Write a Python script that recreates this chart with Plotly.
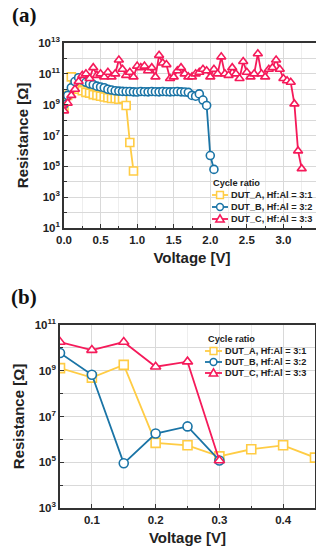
import plotly.graph_objects as go

# ---------------- Panel (a) data ----------------
volt_a_A = [round(0.05 * i, 2) for i in range(20)]
logR_a_A = [8.8, 9.6, 10.8, 10.3, 10.0, 9.9, 9.8, 9.75, 9.65, 9.6,
            9.55, 9.5, 9.45, 9.4, 9.4, 9.35, 9.4, 8.95, 6.55, 4.7]

volt_a_B = [round(0.05 * i, 2) for i in range(42)]
logR_a_B = [9.0, 9.6, 10.1, 10.5, 10.75, 10.6, 10.45, 10.35, 10.3, 10.2,
            10.15, 10.1, 10.0, 9.95, 9.9, 9.88, 9.86, 9.85, 9.85, 9.83,
            9.82, 9.85, 9.84, 9.83, 9.85, 9.84, 9.83, 9.85, 9.84, 9.83,
            9.84, 9.85, 9.83, 9.82, 9.8, 9.6, 9.55, 9.7, 9.3, 8.95,
            5.7, 4.8]

volt_a_C = [round(0.05 * i, 2) for i in range(66)]
logR_a_C = [8.6, 9.1, 9.6, 10.0, 10.5, 10.9, 11.0, 10.7, 11.4, 10.9,
            11.0, 10.8, 11.1, 10.8, 11.0, 11.9, 11.3, 10.9, 11.1, 10.8,
            11.5, 11.4, 11.5, 11.2, 11.4, 10.8, 12.2, 11.7, 11.6, 10.7,
            10.8, 11.2, 11.4, 11.0, 10.8, 10.8, 11.0, 11.1, 11.3, 11.2,
            10.8, 11.3, 11.0, 12.1, 11.0, 10.9, 11.4, 11.0, 10.7, 11.8,
            11.1, 10.8, 11.0, 12.3, 11.0, 10.8, 11.3, 11.4, 11.9, 11.3,
            10.7, 10.55, 10.45, 9.05, 6.0, 4.85]

# ---------------- Panel (b) data ----------------
volt_b_A = [0.05, 0.10, 0.15, 0.20, 0.25, 0.30, 0.35, 0.40, 0.45]
res_b_A = [1.3e9, 5.0e8, 1.8e9, 7.0e5, 5.5e5, 1.8e5, 3.7e5, 5.5e5, 1.6e5]

volt_b_B = [0.05, 0.10, 0.15, 0.20, 0.25, 0.30]
res_b_B = [6.0e9, 6.7e8, 9.0e4, 1.8e6, 3.7e6, 1.2e5]

volt_b_C = [0.05, 0.10, 0.15, 0.20, 0.25, 0.30]
res_b_C = [1.8e10, 8.0e9, 1.8e10, 1.5e9, 2.5e9, 1.2e5]

names = ["DUT_A, Hf:Al = 3:1", "DUT_B, Hf:Al = 3:2", "DUT_C, Hf:Al = 3:3"]
colors = ["#FFCC44", "#1A74A6", "#F51A5A"]
symbols = ["square", "circle", "triangle-up"]
legend_title = "Cycle ratio"

FONT = "Liberation Sans, Arial, sans-serif"
OFF = 8                      # page body margin of the HTML page
W, H = 324 - OFF, 550 - OFF  # figure size so the page fits the window

def px(x):
    return (x - OFF) / W

def py(y):
    return 1 - (y - OFF) / H

fig = go.Figure()

series_a = [(volt_a_A, logR_a_A), (volt_a_B, logR_a_B), (volt_a_C, logR_a_C)]
for (xv, lv), nm, c, s in zip(series_a, names, colors, symbols):
    fig.add_trace(go.Scatter(
        x=xv, y=[10 ** v for v in lv], name=nm, mode="lines+markers",
        line=dict(color=c, width=1.8),
        marker=dict(symbol=s, size=8, color="white", line=dict(color=c, width=1.6)),
        xaxis="x", yaxis="y", showlegend=False))

series_b = [(volt_b_A, res_b_A), (volt_b_B, res_b_B), (volt_b_C, res_b_C)]
for (xv, yv), nm, c, s in zip(series_b, names, colors, symbols):
    fig.add_trace(go.Scatter(
        x=xv, y=yv, name=nm, mode="lines+markers",
        line=dict(color=c, width=1.8),
        marker=dict(symbol=s, size=9, color="white", line=dict(color=c, width=1.6)),
        xaxis="x2", yaxis="y2", showlegend=False))

def log_ticks(lo, hi):
    major = [10 ** k for k in range(lo, hi + 1, 2)]
    txt = ["10<sup>%d</sup>" % k for k in range(lo, hi + 1, 2)]
    minor = [10 ** k for k in range(lo + 1, hi, 2)]
    return major, txt, minor

ya_maj, ya_txt, ya_min = log_ticks(1, 13)
yb_maj, yb_txt, yb_min = log_ticks(3, 11)

axis_common = dict(showline=True, linecolor="#333333", linewidth=1.5, mirror=True,
                   ticks="inside", ticklen=4, tickcolor="#333333",
                   gridcolor="#d9d9d9", gridwidth=1, zeroline=False, automargin=False,
                   tickfont=dict(family=FONT, size=11.5, color="#222222", weight="bold"))
title_font = dict(family=FONT, size=15, color="#222222", weight="bold")

fig.update_layout(
    width=W, height=H, margin=dict(l=0, r=0, t=0, b=0),
    paper_bgcolor="white", plot_bgcolor="white",
    font=dict(family=FONT, color="#222222"),
    showlegend=False,
    xaxis=dict(domain=[px(64), px(320)], anchor="y", range=[0, 3.5],
               dtick=0.5, tickformat=".1f",
               minor=dict(dtick=0.25, ticks="inside", ticklen=2, showgrid=True,
                          gridcolor="#eeeeee"),
               title=dict(text="Voltage [V]", standoff=8, font=title_font),
               **axis_common),
    yaxis=dict(domain=[py(228), py(43)], anchor="x", type="log",
               range=[1, 13], tickvals=ya_maj, ticktext=ya_txt,
               minor=dict(tickvals=ya_min, ticks="inside", ticklen=3, showgrid=True,
                          gridcolor="#d9d9d9"),
               title=dict(text="Resistance [Ω]", standoff=6, font=title_font),
               **axis_common),
    xaxis2=dict(domain=[px(60), px(315)], anchor="y2", range=[0.05, 0.45],
                tickvals=[0.1, 0.2, 0.3, 0.4], ticktext=["0.1", "0.2", "0.3", "0.4"],
                minor=dict(dtick=0.05, tick0=0.05, ticks="inside", ticklen=2,
                           showgrid=True, gridcolor="#eeeeee"),
                title=dict(text="Voltage [V]", standoff=8, font=title_font),
                **axis_common),
    yaxis2=dict(domain=[py(508), py(325)], anchor="x2", type="log",
                range=[3, 11], tickvals=yb_maj, ticktext=yb_txt,
                minor=dict(tickvals=yb_min, ticks="inside", ticklen=3, showgrid=True,
                           gridcolor="#d9d9d9"),
                title=dict(text="Resistance [Ω]", standoff=6, font=title_font),
                **axis_common),
)

annotations = [
    dict(text="<b>(a)</b>", x=px(10), y=py(15), xref="paper", yref="paper",
         xanchor="left", yanchor="middle", showarrow=False,
         font=dict(family="Liberation Serif, Times New Roman, serif", size=21, color="#111111")),
    dict(text="<b>(b)</b>", x=px(9), y=py(297), xref="paper", yref="paper",
         xanchor="left", yanchor="middle", showarrow=False,
         font=dict(family="Liberation Serif, Times New Roman, serif", size=21, color="#111111")),
]
shapes = []

# custom compact legends (pixel layout like the reference)
leg_font = dict(family=FONT, size=9.2, color="#222222", weight="bold")
leg_title_font = dict(family=FONT, size=9.2, color="#222222", weight="bold")

def add_legend(x_sym0, x_sym1, x_title, y_title, y_items):
    annotations.append(dict(text=legend_title, x=px(x_title), y=py(y_title), xref="paper",
                            yref="paper", xanchor="left", yanchor="middle",
                            showarrow=False, font=leg_title_font))
    xm = (x_sym0 + x_sym1) / 2
    r = 3.4
    for nm, c, s, yy in zip(names, colors, symbols, y_items):
        shapes.append(dict(type="line", xref="paper", yref="paper",
                           x0=px(x_sym0), x1=px(x_sym1), y0=py(yy), y1=py(yy),
                           line=dict(color=c, width=1.8)))
        if s == "square":
            shapes.append(dict(type="rect", xref="paper", yref="paper",
                               x0=px(xm - r), x1=px(xm + r), y0=py(yy + r), y1=py(yy - r),
                               fillcolor="white", line=dict(color=c, width=1.5)))
        elif s == "circle":
            shapes.append(dict(type="circle", xref="paper", yref="paper",
                               x0=px(xm - r), x1=px(xm + r), y0=py(yy + r), y1=py(yy - r),
                               fillcolor="white", line=dict(color=c, width=1.5)))
        else:
            path = "M %f,%f L %f,%f L %f,%f Z" % (
                px(xm - r - 0.8), py(yy + r - 0.3), px(xm + r + 0.8), py(yy + r - 0.3),
                px(xm), py(yy - r - 0.8))
            shapes.append(dict(type="path", xref="paper", yref="paper", path=path,
                               fillcolor="white", line=dict(color=c, width=1.5)))
        annotations.append(dict(text=nm, x=px(x_sym1 + 0.5), y=py(yy), xref="paper",
                                yref="paper", xanchor="left", yanchor="middle",
                                showarrow=False, font=leg_font))

add_legend(212, 228, 211, 183, [195, 207, 219])
add_legend(205, 222, 206, 339, [351, 362, 373])

fig.update_layout(annotations=annotations, shapes=shapes)

fig.write_html("out.html")
